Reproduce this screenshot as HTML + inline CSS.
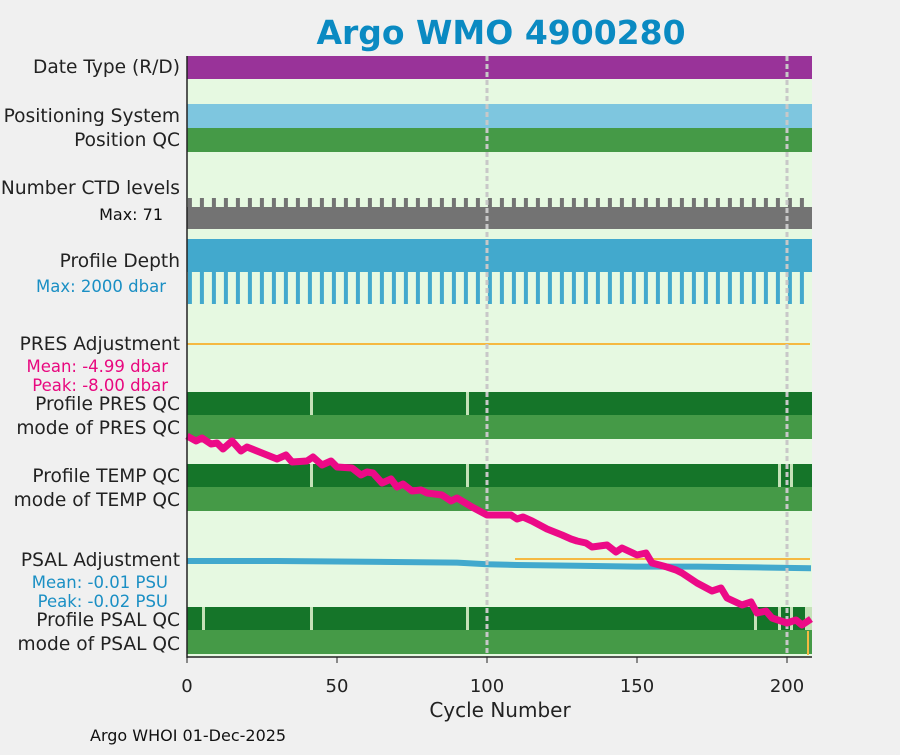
<!DOCTYPE html>
<html><head><meta charset="utf-8"><style>
body{margin:0;background:#f0f0f0;font-family:"Liberation Sans","DejaVu Sans",sans-serif}
svg text{font-family:"DejaVu Sans","Liberation Sans",sans-serif}
</style></head><body>
<svg id="c" width="900" height="750" xmlns="http://www.w3.org/2000/svg">
<rect width="900" height="750" fill="#f0f0f0"/>
<text x="501" y="44" text-anchor="middle" font-size="33" font-weight="bold" fill="#0a8ac2">Argo WMO 4900280</text>
<rect x="187" y="56" width="625" height="601" fill="#e6f9e1"/>
<g id="marks"></g>
<g font-size="18.6" fill="#222" text-anchor="end">
<text x="180" y="73">Date Type (R/D)</text>
<text x="180" y="122">Positioning System</text>
<text x="180" y="146">Position QC</text>
<text x="180" y="194">Number CTD levels</text>
<text x="163" y="220" font-size="16" fill="#111">Max: 71</text>
<text x="180" y="267">Profile Depth</text>
<text x="166" y="292" font-size="16.5" fill="#1a8fc4">Max: 2000 dbar</text>
<text x="180" y="350">PRES Adjustment</text>
<text x="168" y="372" font-size="16.5" fill="#e8087f">Mean: -4.99 dbar</text>
<text x="168" y="391" font-size="16.5" fill="#e8087f">Peak: -8.00 dbar</text>
<text x="180" y="410">Profile PRES QC</text>
<text x="180" y="434">mode of PRES QC</text>
<text x="180" y="482">Profile TEMP QC</text>
<text x="180" y="506">mode of TEMP QC</text>
<text x="180" y="566">PSAL Adjustment</text>
<text x="168" y="588" font-size="16.5" fill="#1a8fc4">Mean: -0.01 PSU</text>
<text x="168" y="607" font-size="16.5" fill="#1a8fc4">Peak: -0.02 PSU</text>
<text x="180" y="626">Profile PSAL QC</text>
<text x="180" y="650">mode of PSAL QC</text>
</g>
<line x1="187" y1="56" x2="187" y2="658" stroke="#222" stroke-width="1.5"/>
<line x1="187" y1="657" x2="812" y2="657" stroke="#222" stroke-width="1.5"/>
<g id="xt" font-size="18" fill="#222" text-anchor="middle"></g>
<text x="500" y="717" font-size="20" text-anchor="middle" fill="#222">Cycle Number</text>
<text x="90" y="741" font-size="16" fill="#111">Argo WHOI 01-Dec-2025</text>
</svg>
<script>
const xTicks=[0,50,100,150,200];
const maxCycle=208.3;
const presQcGaps=[41,93];
const tempQcGaps=[41,93,197,201];
const psalQcGaps=[5,41,93,189,197,201,206];
const pinkCycles=[0,3,5,8,10,12,15,18,20,25,30,33,35,40,42,45,48,50,55,58,60,62,65,68,70,72,75,78,80,85,88,90,95,100,105,108,110,112,115,120,125,128,130,133,135,140,143,145,150,153,155,160,163,165,170,175,178,180,185,188,190,193,195,200,203,205,208];
const pinkValues=[1,6,3,9,8,14,6,16,12,18,24,20,27,26,22,30,26,32,33,40,37,38,48,44,52,49,56,55,58,60,66,63,72,80,80,80,84,82,86,94,100,104,106,108,112,110,117,113,120,118,128,132,135,138,148,156,153,163,170,167,178,176,183,188,185,190,184];
const psalCycles=[0,30,60,90,100,110,130,150,170,190,208];
const psalAdj=[0,0,-0.001,-0.002,-0.004,-0.005,-0.006,-0.007,-0.007,-0.008,-0.009];
const NS="http://www.w3.org/2000/svg";
const X=c=>187+c*3;
const Yp=v=>435+v;
const Ys=v=>561-v*800;
const g=document.getElementById('marks');
function mk(t,a,name){const e=document.createElementNS(NS,t);for(const k in a)e.setAttribute(k,a[k]);


g.appendChild(e);return e;}
function band(y,h,col,name){mk('rect',{x:187,y:y,width:625,height:h,fill:col},name);}
band(56,23,'#993399','date-type-bar');
band(104,24,'#7ec6df','positioning-system-bar');
band(128,24,'#459a47','position-qc-bar');
band(207,22,'#737373','ctd-levels-bar');
band(239,33,'#42a9cd','profile-depth-bar');
for(let c=0.3;c<maxCycle;c+=4){
mk('rect',{x:X(c),y:198,width:4,height:10,fill:'#737373'},'ctd-spike');
mk('rect',{x:X(c),y:272,width:4,height:32,fill:'#42a9cd'},'depth-spike');}
mk('line',{x1:187,y1:344,x2:810,y2:344,stroke:'#f5b942','stroke-width':2},'pres-adjustment-line');
function qc(y,gaps,name){band(y,23,'#157529',name+'-profile');band(y+23,24,'#459a47',name+'-mode');
gaps.forEach(c=>mk('rect',{x:X(c),y:y,width:3,height:23,fill:'#c5e2b8'},name+'-gap'));}
qc(392,presQcGaps,'pres-qc');qc(464,tempQcGaps,'temp-qc');qc(607,psalQcGaps,'psal-qc');
mk('rect',{x:807,y:607,width:5,height:23,fill:'#c5e2b8'},'psal-qc-end');
mk('rect',{x:807,y:631,width:2,height:24,fill:'#f5b942'},'psal-qc-mode-flag');
mk('line',{x1:515,y1:559,x2:810,y2:559,stroke:'#f5b942','stroke-width':2},'psal-adjustment-zero-line');
mk('polyline',{points:psalCycles.map((c,i)=>X(c)+','+Ys(psalAdj[i])).join(' '),fill:'none',stroke:'#42a9cd','stroke-width':6},'psal-adjustment-line');
[100,200].forEach(c=>mk('line',{x1:X(c),y1:56,x2:X(c),y2:657,stroke:'#c8c8c8','stroke-width':3,'stroke-dasharray':'5 3'},'reference-gridline'));
mk('polyline',{points:pinkCycles.map((c,i)=>X(c)+','+Yp(pinkValues[i])).join(' '),fill:'none',stroke:'#ec0a87','stroke-width':7,'stroke-linejoin':'round'},'trajectory-line');
const xt=document.getElementById('xt');
xTicks.forEach(t=>{const l=document.createElementNS(NS,'line');
l.setAttribute('x1',X(t));l.setAttribute('x2',X(t));l.setAttribute('y1',657);l.setAttribute('y2',663);l.setAttribute('stroke','#222');


xt.appendChild(l);
const s=document.createElementNS(NS,'text');s.setAttribute('x',X(t));s.setAttribute('y',692);s.textContent=t;


xt.appendChild(s);});
</script>
</body></html>
